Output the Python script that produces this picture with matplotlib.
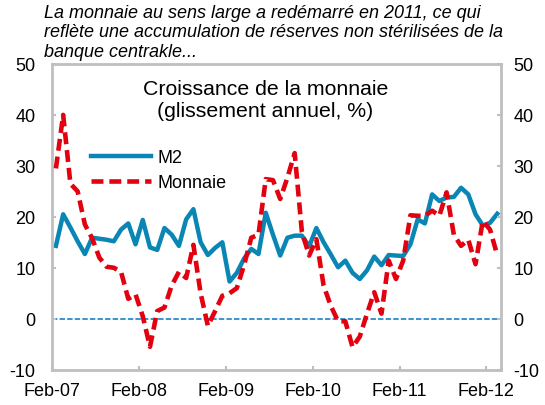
import matplotlib
matplotlib.use("Agg")
import matplotlib.pyplot as plt
import numpy as np

plt.rcParams['font.family'] = ['Liberation Sans', 'DejaVu Sans']
plt.rcParams['axes.unicode_minus'] = False

# monthly data, Feb-07 .. Mar-12
m2 = [14.3, 20.5, 17.9, 15.2, 12.7, 15.9, 15.7, 15.5, 15.2, 17.5,
      18.7, 14.6, 19.4, 14.0, 13.5, 17.8, 16.5, 14.3, 19.5, 21.5,
      15.0, 12.5, 13.9, 15.0, 7.3, 9.0, 11.8, 13.7, 12.7, 20.8,
      16.5, 12.4, 15.9, 16.3, 16.3, 14.2, 17.8, 15.0, 12.6, 10.1,
      11.4, 9.0, 7.8, 9.5, 12.2, 10.5, 12.5, 12.4, 12.3, 14.6,
      19.5, 18.7, 24.4, 23.1, 23.8, 23.9, 25.7, 24.4, 20.5, 18.3,
      18.8, 20.6]
monnaie = [29.5, 40.0, 26.5, 25.0, 18.5, 15.8, 12.0, 10.2, 10.0, 9.2,
           3.9, 4.8, 0.5, -5.5, 1.5, 2.2, 6.5, 9.2, 8.0, 14.5,
           5.0, -1.4, 1.5, 4.5, 5.0, 6.0, 10.5, 15.9, 16.5, 27.4,
           27.2, 23.5, 27.7, 32.5, 17.0, 12.4, 15.6, 6.5, 2.5, -0.5,
           -0.5, -5.6, -3.5, 1.0, 5.2, 1.0, 11.4, 7.8, 11.4, 20.3,
           20.2, 20.2, 21.2, 20.2, 24.8, 16.5, 14.3, 15.5, 10.7, 19.2,
           17.5, 12.5]
tick_labels = ['Feb-07', 'Feb-08', 'Feb-09', 'Feb-10', 'Feb-11', 'Feb-12']

x = np.arange(len(m2)) + 0.5
grey = '#BFBFBF'

fig = plt.figure(figsize=(5.45, 4.06), dpi=100)
ax = fig.add_axes([0.096, 0.087, 0.823, 0.753])

ax.plot([0, 62], [0, 0], color='#2E8BCB', lw=1.3, dashes=(3, 1.2), zorder=1)
ax.plot(x, m2, color='#0A86B4', lw=3.2, solid_joinstyle='round', label='M2', zorder=2)
ax.plot(x, monnaie, color='#E3000F', lw=3.3, dashes=(2.6, 1.3), label='Monnaie', zorder=3)

ax.set_xlim(0, 62)
ax.set_ylim(-10, 50)
ax.set_yticks(range(-10, 51, 10))
ax.set_xticks([0, 12, 24, 36, 48, 60])
ax.set_xticklabels(tick_labels)
for s in ax.spines.values():
    s.set_color(grey)
    s.set_linewidth(2)
ax.tick_params(axis='both', direction='in', length=3, width=1.5, color=grey,
               labelsize=13)
ax.tick_params(axis='y', pad=12)
ax.tick_params(axis='x', pad=9)

ax2 = ax.twinx()
ax2.set_ylim(-10, 50)
ax2.set_yticks(range(-10, 51, 10))
for s in ax2.spines.values():
    s.set_visible(False)
ax2.tick_params(axis='y', direction='in', length=3, width=1.5, color=grey,
                labelsize=13, pad=9)

ax.legend(loc='upper left', bbox_to_anchor=(0.05, 0.775), frameon=False,
          fontsize=13, handlelength=3.3, handletextpad=0.4, labelspacing=0.45)

ax.text(0.475, 0.952, 'Croissance de la monnaie\n(glissement annuel, %)',
        transform=ax.transAxes, ha='center', va='top', fontsize=15.3,
        linespacing=1.25)

fig.text(0.081, 0.988, "La monnaie au sens large a redémarré en 2011, ce qui\n"
         "reflète une accumulation de réserves non stérilisées de la\n"
         "banque centrakle...", ha='left', va='top', style='italic',
         fontsize=13, linespacing=1.18)

fig.savefig('out.png', dpi=100)
